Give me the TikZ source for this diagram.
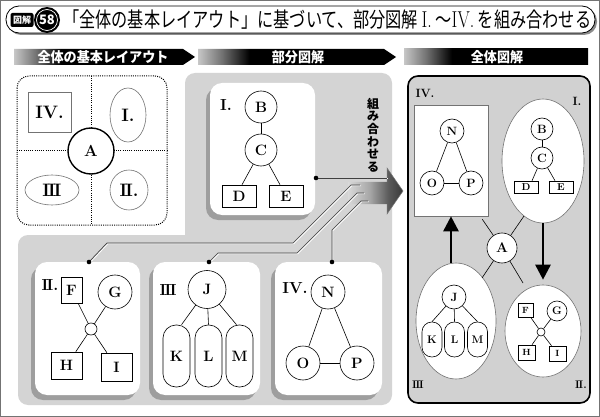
\documentclass[tikz,border=0pt]{standalone}
\usepackage{fontspec}
\newfontfamily\jp{Noto Sans CJK JP}
\usetikzlibrary{shapes.geometric,arrows.meta,calc}
\newcommand\myfs[1]{\fontsize{#1}{#1}\selectfont}
\newcommand\rII{I\kern-.1em I}
\newcommand\rIII{I\kern-.1em I\kern-.1em I}
\pgfdeclarehorizontalshading{barshade}{100bp}{color(0bp)=(black!22); color(25bp)=(black!22); color(31bp)=(black!55); color(38bp)=(black); color(100bp)=(black)}
\pgfdeclarehorizontalshading{arrshade}{100bp}{color(0bp)=(black!15); color(25bp)=(black!15); color(45bp)=(black!35); color(62bp)=(black!65); color(75bp)=(black!78); color(100bp)=(black!78)}
\begin{document}
\begin{tikzpicture}[x=1pt,y=-1pt,
  cn/.style={circle,draw,fill=white,line width=0.6pt,inner sep=0pt},
  bx/.style={rectangle,draw,fill=white,line width=0.6pt,inner sep=0pt},
  ed/.style={line width=0.6pt},
  fb/.style={font=\bfseries\myfs{#1}},
  lb/.style={inner sep=0pt,font=\bfseries\myfs{#1}},
  shd/.style={fill=black!38,rounded corners=12pt},
  sub/.style={fill=white,rounded corners=12pt},
  con/.style={draw=black!75,line width=0.7pt},
  hil/.style={draw=white,line width=0.8pt,transform canvas={shift={(0.8pt,-0.8pt)}}},
  hdr/.style={text=white,inner sep=0pt,font=\jp\bfseries\myfs{14}},
  gry/.style={draw=black!55,line width=0.6pt},
  dotl/.style={line width=1pt,dash pattern=on 1pt off 1.2pt},
  fat/.style={line width=2.6pt,-{Triangle[width=15pt,length=15pt]}}
]
\useasboundingbox (0,0) rectangle (600,417);
\fill[white] (0,0) rectangle (600,417);
\draw[black!55, line width=0.8pt] (0.5,0.5) rectangle (599.5,416.5);

% ---------- title ----------
\fill[black!45, rounded corners=13pt] (8,8) rectangle (597,35);
\draw[fill=white, line width=0.8pt, rounded corners=13pt] (6,6) rectangle (595,33);
\node[fill=black, rounded corners=2pt, minimum width=23pt, minimum height=14pt, inner sep=0pt, text=white, font=\jp\bfseries\myfs{9}] (zk) at (22,20) {図解};
\node[circle, fill=black, minimum size=26pt, inner sep=0pt] (n58) at (47,20) {};
\node[circle, draw=white, line width=0.7pt, minimum size=21pt, inner sep=0pt, text=white, font=\jp\bfseries\myfs{13}] (t58) at (n58) {58};
\node[anchor=west, inner sep=0pt, font=\jp\myfs{21}] (title) at (63,20) {\resizebox{528pt}{\height}{「全体の基本レイアウト」に基づいて、部分図解 {\rmfamily\myfs{23}I.} ～{\rmfamily\myfs{23}IV.} を組み合わせる}};

% ---------- header bars ----------
\shade[shading=barshade] (14,49) -- (183,49) -- (195,57) -- (183,65) -- (14,65) -- cycle;
\shade[shading=barshade] (198,49) -- (384,49) -- (396,57) -- (384,65) -- (198,65) -- cycle;
\shade[shading=barshade] (404,49) -- (588,49) -- (588,65) -- (404,65) -- cycle;
\node[hdr] (h1) at (103,57) {\resizebox{131pt}{\height}{全体の基本レイアウト}};
\node[hdr] (h2) at (298,57) {\scalebox{0.93}[1]{部分図解}};
\node[hdr] (h3) at (497,57) {\scalebox{0.93}[1]{全体図解}};

% ---------- panel 1 : layout ----------
\draw[dotl, rounded corners=12pt] (17,76) rectangle (167,225);
\draw[dotl] (91,76) -- (91,225);
\draw[dotl] (17,151) -- (167,151);
\node[cn, line width=1.4pt, minimum size=46pt, fb=16] (A) at (91,151) {A};
\node[rectangle, gry, minimum width=43pt, minimum height=40pt, lb=18] (q4) at (49.5,112) {IV.};
\node[ellipse, gry, minimum width=36pt, minimum height=54pt, lb=18] (q1) at (128,115) {I.};
\node[ellipse, gry, minimum width=54pt, minimum height=30pt, lb=18] (q3) at (52,190) {\rIII};
\node[ellipse, gry, minimum width=38pt, minimum height=40pt, lb=18] (q2) at (129,190) {\rII.};

% ---------- panel 2 : parts ----------
\fill[black!17, rounded corners=10pt] (185,235) -- (185,73) -- (392,73) -- (392,405) -- (18,405) -- (18,235) -- (185,235);
\fill[shd] (206,88) rectangle (311,220);
\fill[sub] (210,83) rectangle (315,215);
\fill[shd] (31,267) rectangle (136,400);
\fill[sub] (35,262) rectangle (140,395);
\fill[shd] (149,267) rectangle (256,400);
\fill[sub] (153,262) rectangle (260,395);
\fill[shd] (271,267) rectangle (378,400);
\fill[sub] (275,262) rectangle (382,395);

% big arrow
\shade[shading=arrshade] (348,182) -- (387,182) -- (387,168) -- (403,191) -- (387,214) -- (387,204) -- (348,204) -- cycle;
\draw[black!55, line width=0.5pt] (387,182) -- (387,168) -- (403,191) -- (387,214) -- (387,204);

\coordinate (dI) at (316,178);
\coordinate (dII) at (89,262);
\coordinate (dIII) at (209,262);
\coordinate (dIV) at (332,262);
\coordinate (eI) at (387,178);
\coordinate (eII) at (360,185);
\coordinate (eIII) at (364,193);
\coordinate (eIV) at (368,201);
\foreach \s in {hil,con}{
  \draw[\s] (dI) -- (eI);
  \draw[\s] (dII) -- (107,243) -- (293,243) -- (351,185) -- (eII);
  \draw[\s] (dIII) -- (218,253) -- (297,253) -- (357,193) -- (eIII);
  \draw[\s] (dIV) -- (332,230) -- (361,201) -- (eIV);
}
\foreach \d in {dI,dII,dIII,dIV}{\fill (\d) circle (2.3pt);}

\node[inner sep=0pt, align=center, font=\jp\bfseries\fontsize{12}{12.6}\selectfont] (kumi) at (373,135) {組\\み\\合\\わ\\せ\\る};

% sub-panel I
\node[lb=16] (lI) at (226,105) {I.};
\node[cn, minimum size=32pt, fb=15] (B) at (261,107) {B};
\node[cn, minimum size=32pt, fb=15] (C) at (261,150) {C};
\node[bx, minimum width=34pt, minimum height=22pt, fb=15] (D) at (239,196) {D};
\node[bx, minimum width=34pt, minimum height=22pt, fb=15] (E) at (286,196) {E};
\draw[ed] (B) -- (C);
\draw[ed] (C) -- ($(D.north)+(3,0)$);
\draw[ed] (C) -- ($(E.north)+(-6,0)$);

% sub-panel II
\node[lb=16] (lII) at (50,285) {\rII.};
\node[bx, minimum width=21pt, minimum height=26pt, fb=15] (F) at (71.5,290) {F};
\node[cn, minimum size=34pt, fb=15] (G) at (115,292) {G};
\node[cn, minimum size=12pt] (s) at (91,329) {};
\node[bx, minimum width=31pt, minimum height=27pt, fb=15] (H) at (66.5,365.5) {H};
\node[bx, minimum width=31pt, minimum height=28pt, fb=15] (I) at (116.5,367) {I};
\draw[ed] (s) -- (F);
\draw[ed] (s) -- (G);
\draw[ed] (s) -- (H);
\draw[ed] (s) -- (I);

% sub-panel III
\node[lb=16] (lIII) at (168,290) {\rIII};
\node[cn, minimum size=38pt, fb=15] (J) at (207,289.5) {J};
\node[bx, rounded corners=13pt, minimum width=27pt, minimum height=62pt, fb=15] (K) at (176.5,356) {K};
\node[bx, rounded corners=13pt, minimum width=27pt, minimum height=62pt, fb=15] (L) at (208.5,356) {L};
\node[bx, rounded corners=13pt, minimum width=27pt, minimum height=62pt, fb=15] (M) at (239.5,356) {M};
\draw[ed] (J) -- ($(K.north)+(5,0)$);
\draw[ed] (J) -- (L.north);
\draw[ed] (J) -- ($(M.north)+(-3,0)$);

% sub-panel IV
\node[lb=16] (lIV) at (295,288) {IV.};
\node[cn, minimum size=34pt, fb=15] (N) at (328,292) {N};
\node[cn, minimum size=34pt, fb=15] (O) at (303,363) {O};
\node[cn, minimum size=34pt, fb=15] (P) at (357,363) {P};
\draw[ed] (N) -- (O);
\draw[ed] (N) -- (P);
\draw[ed] (O) -- (P);

% ---------- panel 3 : whole ----------
\draw[line width=1.6pt, fill=black!18, rounded corners=10pt] (408,76) rectangle (590,403);
\node[lb=12] (m4) at (425,93) {IV.};
\node[lb=12] (m1) at (577,101) {I.};
\node[lb=11] (m3) at (418,385) {\rIII};
\node[lb=11] (m2) at (581,385) {\rII.};

\node[rectangle, gry, fill=white, minimum width=74pt, minimum height=111pt, inner sep=0pt] (P4) at (451,160.5) {};
\node[ellipse, gry, fill=white, minimum width=82pt, minimum height=124pt, inner sep=0pt] (P1) at (543,161) {};
\node[ellipse, gry, fill=white, minimum width=80pt, minimum height=116pt, inner sep=0pt] (P3) at (456,321) {};
\node[ellipse, gry, fill=white, minimum width=76pt, minimum height=92pt, inner sep=0pt] (P2) at (543,331) {};

\node[cn, minimum size=24pt, fb=12] (N3) at (452,131) {N};
\node[cn, minimum size=24pt, fb=12] (O3) at (432,183) {O};
\node[cn, minimum size=24pt, fb=12] (P3n) at (471,183) {P};
\draw[ed] (N3) -- (O3);
\draw[ed] (N3) -- (P3n);
\draw[ed] (O3) -- (P3n);

\node[cn, minimum size=22pt, fb=12] (B3) at (542,129) {B};
\node[cn, minimum size=22pt, fb=12] (C3) at (542,158) {C};
\node[bx, minimum width=24pt, minimum height=12pt, fb=10] (D3) at (526,187) {D};
\node[bx, minimum width=24pt, minimum height=12pt, fb=10] (E3) at (561,187) {E};
\draw[ed] (B3) -- (C3);
\draw[ed] (C3) -- ($(D3.north)+(6,0)$);
\draw[ed] (C3) -- ($(E3.north)+(-6,0)$);

\node[cn, minimum size=24pt, fb=12] (J3) at (454,297) {J};
\node[bx, rounded corners=9.8pt, minimum width=20pt, minimum height=35pt, fb=11] (K3) at (432,339.5) {K};
\node[bx, rounded corners=9.8pt, minimum width=20pt, minimum height=35pt, fb=11] (L3) at (454.5,339.5) {L};
\node[bx, rounded corners=9.8pt, minimum width=20pt, minimum height=35pt, fb=11] (M3) at (477.5,339.5) {M};
\draw[ed] (J3) -- (K3.north);
\draw[ed] (J3) -- (L3.north);
\draw[ed] (J3) -- (M3.north);

\node[bx, minimum width=15pt, minimum height=14pt, fb=9] (F3) at (525.5,310) {F};
\node[cn, minimum size=20pt, fb=11] (G3) at (557,311) {G};
\node[cn, minimum size=8pt] (s3) at (541,332) {};
\node[bx, minimum width=17pt, minimum height=15pt, fb=9] (H3) at (526.5,352.5) {H};
\node[bx, minimum width=17pt, minimum height=15pt, fb=9] (I3) at (557.5,353.5) {I};
\draw[ed] (s3) -- (F3);
\draw[ed] (s3) -- (G3);
\draw[ed] (s3) -- (H3);
\draw[ed] (s3) -- (I3);

\node[cn, minimum size=30pt, fb=14] (A3) at (502,248) {A};
\draw[ed] (A3) -- ($(P4.south east)+(-6,3)$);
\draw[ed] (A3) -- ($(P1.center)+(-19,55)$);
\draw[ed] (A3) -- ($(P3.center)+(26,-43)$);
\draw[ed] (A3) -- ($(P2.center)+(-20,-48)$);

\draw[fat] (P4.south |- P3.north) -- (P4.south);
\draw[fat] (P1.south) -- ($(P2.north)+(0,-5)$);
\end{tikzpicture}
\end{document}
